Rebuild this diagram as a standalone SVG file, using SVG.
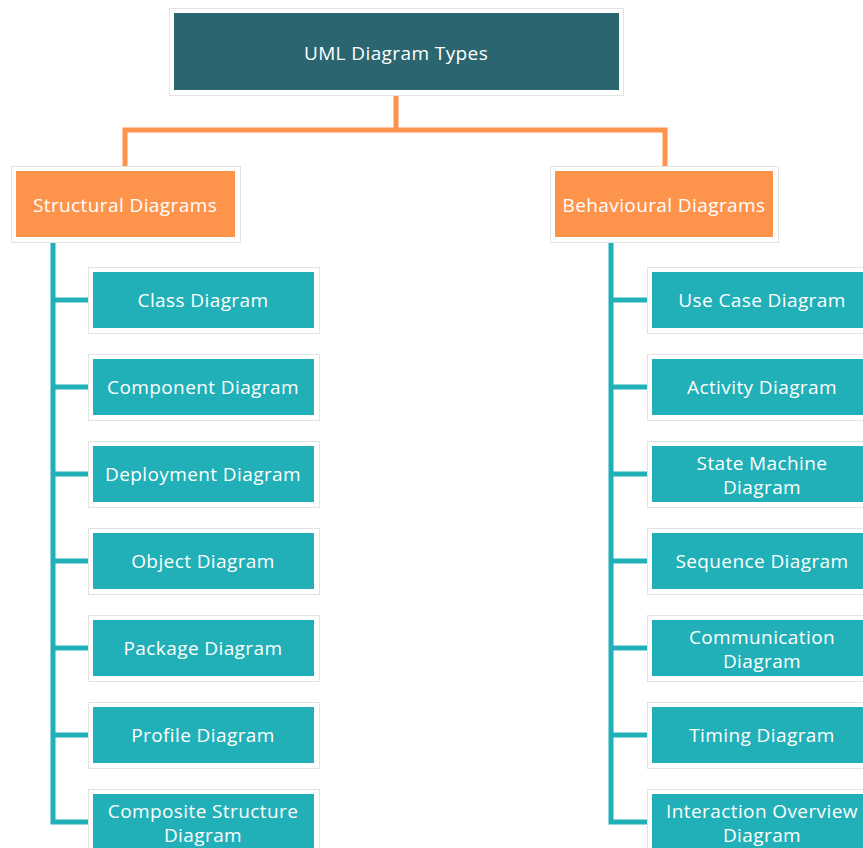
<svg xmlns="http://www.w3.org/2000/svg" width="863" height="848" viewBox="0 0 863 848">
  <style>
    .frame { fill: #ffffff; stroke: #e3e3e3; stroke-width: 1; }
    .root { fill: #2b6670; }
    .group { fill: #fe944b; }
    .leaf { fill: #21b0b7; }
    .label { font-family: "Open Sans", "Liberation Sans", sans-serif; font-size: 19px; font-weight: 500; fill: #ffffff; text-anchor: middle; letter-spacing: 0.4px; }
    .orange { fill: none; stroke: #fe944b; stroke-width: 5; }
    .teal { fill: none; stroke: #21b0b7; stroke-width: 5; }
  </style>
  <rect width="863" height="848" fill="#ffffff"/>

  <!-- connectors -->
  <g id="connectors">
    <path class="orange" d="M396 95 V130 M125 167 V130 H665 V167"/>
    <path class="teal" d="M53 242 V822 H91 M53 300 H91 M53 387 H91 M53 474 H91 M53 561 H91 M53 648 H91 M53 735 H91"/>
    <path class="teal" d="M611 242 V822 H650 M611 300 H650 M611 387 H650 M611 474 H650 M611 561 H650 M611 648 H650 M611 735 H650"/>
  </g>

  <!-- root -->
  <g id="uml-diagram-types">
    <rect class="frame" x="169.5" y="8.5" width="454" height="87"/>
    <rect class="root" x="174" y="13" width="445" height="77"/>
    <text class="label" x="396" y="60">UML Diagram Types</text>
  </g>

  <!-- categories -->
  <g id="structural-diagrams">
    <rect class="frame" x="11.5" y="166.5" width="229" height="76"/>
    <rect class="group" x="16" y="171" width="219" height="66"/>
    <text class="label" x="125" y="212">Structural Diagrams</text>
  </g>
  <g id="behavioural-diagrams">
    <rect class="frame" x="550.5" y="166.5" width="228" height="76"/>
    <rect class="group" x="555" y="171" width="218" height="66"/>
    <text class="label" x="664" y="212">Behavioural Diagrams</text>
  </g>

  <!-- structural diagrams -->
  <g id="class-diagram">
    <rect class="frame" x="88.5" y="267.5" width="231" height="66"/>
    <rect class="leaf" x="93" y="272" width="221" height="56"/>
    <text class="label" x="203" y="307">Class Diagram</text>
  </g>
  <g id="component-diagram">
    <rect class="frame" x="88.5" y="354.5" width="231" height="66"/>
    <rect class="leaf" x="93" y="359" width="221" height="56"/>
    <text class="label" x="203" y="394">Component Diagram</text>
  </g>
  <g id="deployment-diagram">
    <rect class="frame" x="88.5" y="441.5" width="231" height="66"/>
    <rect class="leaf" x="93" y="446" width="221" height="56"/>
    <text class="label" x="203" y="481">Deployment Diagram</text>
  </g>
  <g id="object-diagram">
    <rect class="frame" x="88.5" y="528.5" width="231" height="66"/>
    <rect class="leaf" x="93" y="533" width="221" height="56"/>
    <text class="label" x="203" y="568">Object Diagram</text>
  </g>
  <g id="package-diagram">
    <rect class="frame" x="88.5" y="615.5" width="231" height="66"/>
    <rect class="leaf" x="93" y="620" width="221" height="56"/>
    <text class="label" x="203" y="655">Package Diagram</text>
  </g>
  <g id="profile-diagram">
    <rect class="frame" x="88.5" y="702.5" width="231" height="66"/>
    <rect class="leaf" x="93" y="707" width="221" height="56"/>
    <text class="label" x="203" y="742">Profile Diagram</text>
  </g>
  <g id="composite-structure-diagram">
    <rect class="frame" x="88.5" y="789.5" width="231" height="66"/>
    <rect class="leaf" x="93" y="794" width="221" height="56"/>
    <text class="label" x="203" y="818">Composite Structure</text>
    <text class="label" x="203" y="842">Diagram</text>
  </g>

  <!-- behavioural diagrams -->
  <g id="use-case-diagram">
    <rect class="frame" x="647.5" y="267.5" width="230" height="66"/>
    <rect class="leaf" x="652" y="272" width="220" height="56"/>
    <text class="label" x="762" y="307">Use Case Diagram</text>
  </g>
  <g id="activity-diagram">
    <rect class="frame" x="647.5" y="354.5" width="230" height="66"/>
    <rect class="leaf" x="652" y="359" width="220" height="56"/>
    <text class="label" x="762" y="394">Activity Diagram</text>
  </g>
  <g id="state-machine-diagram">
    <rect class="frame" x="647.5" y="441.5" width="230" height="66"/>
    <rect class="leaf" x="652" y="446" width="220" height="56"/>
    <text class="label" x="762" y="470">State Machine</text>
    <text class="label" x="762" y="494">Diagram</text>
  </g>
  <g id="sequence-diagram">
    <rect class="frame" x="647.5" y="528.5" width="230" height="66"/>
    <rect class="leaf" x="652" y="533" width="220" height="56"/>
    <text class="label" x="762" y="568">Sequence Diagram</text>
  </g>
  <g id="communication-diagram">
    <rect class="frame" x="647.5" y="615.5" width="230" height="66"/>
    <rect class="leaf" x="652" y="620" width="220" height="56"/>
    <text class="label" x="762" y="644">Communication</text>
    <text class="label" x="762" y="668">Diagram</text>
  </g>
  <g id="timing-diagram">
    <rect class="frame" x="647.5" y="702.5" width="230" height="66"/>
    <rect class="leaf" x="652" y="707" width="220" height="56"/>
    <text class="label" x="762" y="742">Timing Diagram</text>
  </g>
  <g id="interaction-overview-diagram">
    <rect class="frame" x="647.5" y="789.5" width="230" height="66"/>
    <rect class="leaf" x="652" y="794" width="220" height="56"/>
    <text class="label" x="762" y="818">Interaction Overview</text>
    <text class="label" x="762" y="842">Diagram</text>
  </g>
</svg>
